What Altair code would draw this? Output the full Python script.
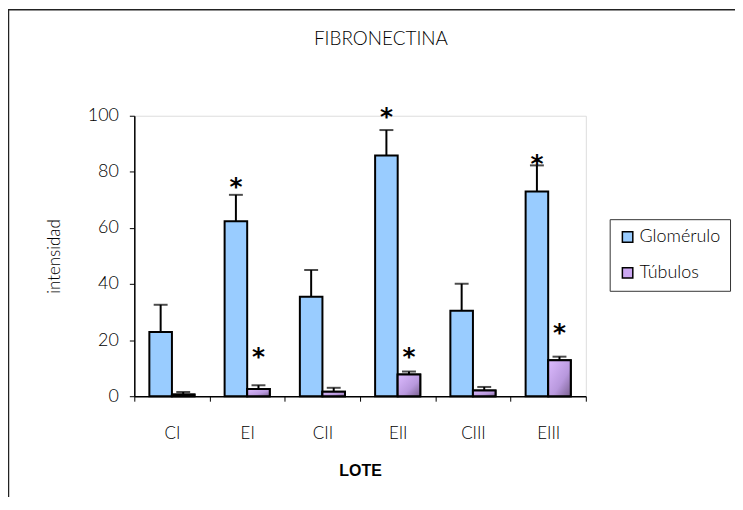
import altair as alt
import pandas as pd

lotes = ["CI", "EI", "CII", "EII", "CIII", "EIII"]
series = ["Glomérulo", "Túbulos"]
glomerulo = [22.9, 62.4, 35.5, 85.8, 30.5, 73.0]
glomerulo_err = [9.7, 9.4, 9.5, 9.1, 9.6, 9.3]
tubulos = [0.6, 2.6, 1.6, 7.7, 2.0, 12.8]
tubulos_err = [0.9, 1.3, 1.4, 1.1, 1.3, 1.3]

star_lote = ["EI", "EI", "EII", "EII", "EIII", "EIII"]
star_serie = ["Glomérulo", "Túbulos", "Glomérulo", "Túbulos", "Glomérulo", "Túbulos"]
star_y = [75.9, 15.5, 100.8, 15.5, 84.3, 23.9]

chart_title = "FIBRONECTINA"

rows = []
for i, l in enumerate(lotes):
    rows.append({"lote": l, "serie": series[0], "value": glomerulo[i], "top": glomerulo[i] + glomerulo_err[i]})
    rows.append({"lote": l, "serie": series[1], "value": tubulos[i], "top": tubulos[i] + tubulos_err[i]})
df = pd.DataFrame(rows)
stars = pd.DataFrame({"lote": star_lote, "serie": star_serie, "y": star_y})

FONT = "Lato"
LIGHT = 300

x = alt.X("lote:N", sort=lotes, scale=alt.Scale(paddingInner=0, paddingOuter=0),
          axis=alt.Axis(title="LOTE", titleFont="Liberation Sans", titleFontWeight="bold",
                        titleFontSize=16, titleColor="black", titlePadding=21,
                        labelFont=FONT, labelFontSize=17, labelFontWeight=LIGHT, labelColor="black",
                        labelAngle=0, labelPadding=25, tickBand="extent", tickSize=5,
                        tickColor="black", domainColor="black", domainWidth=1.5, tickWidth=1))
xo = alt.XOffset("serie:N", sort=series, scale=alt.Scale(paddingInner=0, paddingOuter=0.667))
y_scale = alt.Scale(domain=[0, 100])
color = alt.Color("serie:N", sort=series,
                  scale=alt.Scale(domain=series, range=["#99CCFF", "#CCA8F2"]),
                  legend=alt.Legend(title=None, orient="none", legendX=478, legendY=104,
                                    strokeColor="#333333", fillColor="white", padding=9,
                                    labelFont=FONT, labelFontSize=18, labelFontWeight=LIGHT,
                                    labelColor="black",
                                    symbolType="square", symbolSize=110, symbolStrokeColor="black",
                                    symbolStrokeWidth=1.5, symbolOpacity=1, rowPadding=18,
                                    labelOffset=3))

bars = alt.Chart(df).mark_bar(stroke="black", strokeWidth=2).encode(
    x=x, xOffset=xo,
    y=alt.Y("value:Q", scale=y_scale,
            axis=alt.Axis(title="intensidad", values=[0, 20, 40, 60, 80, 100], grid=False,
                          titleFont=FONT, titleFontSize=17, titleFontWeight=LIGHT,
                          titleColor="black", titlePadding=24,
                          labelFont=FONT, labelFontSize=18, labelFontWeight=LIGHT,
                          labelColor="black", labelPadding=11,
                          tickSize=5, tickColor="black", domainColor="black", domainWidth=1.5)),
    color=color,
)

tub_grad = alt.Chart(df[df.serie == "Túbulos"]).mark_bar(
    stroke="black", strokeWidth=2,
    fill=alt.Gradient(gradient="linear", x1=0, y1=0, x2=1, y2=1,
                      stops=[alt.GradientStop(color="#DDBBFF", offset=0),
                             alt.GradientStop(color="#B898DD", offset=0.6),
                             alt.GradientStop(color="#7A6090", offset=1)]),
).encode(x=x, xOffset=xo, y=alt.Y("value:Q", scale=y_scale))

err = alt.Chart(df).mark_rule(color="black", strokeWidth=2).encode(
    x=x, xOffset=xo, y=alt.Y("value:Q", scale=y_scale), y2="top:Q")
caps = alt.Chart(df).mark_tick(color="black", thickness=2, size=14, orient="horizontal").encode(
    x=x, xOffset=xo, y=alt.Y("top:Q", scale=y_scale))

star_txt = alt.Chart(stars).mark_text(text="*", font="DejaVu Sans", fontWeight="bold",
                                      fontSize=25, baseline="alphabetic", dy=12, color="black").encode(
    x=x, xOffset=xo, y=alt.Y("y:Q", scale=y_scale))

title_txt = alt.Chart(alt.Data(values=[{"t": chart_title}])).mark_text(
    font=FONT, fontSize=19, fontWeight=LIGHT, color="black", align="center", baseline="middle"
).encode(x=alt.value(248), y=alt.value(-77), text="t:N")

frame_left = alt.Chart(alt.Data(values=[{}])).mark_rule(color="#222222", strokeWidth=1.5).encode(
    x=alt.value(-126.5), y=alt.value(-107), y2=alt.value(400))
frame_top = alt.Chart(alt.Data(values=[{}])).mark_rule(color="#222222", strokeWidth=1.5).encode(
    x=alt.value(-127), x2=alt.value(604), y=alt.value(-106.5))

chart = alt.layer(bars, tub_grad, err, caps, star_txt, title_txt, frame_left, frame_top).properties(
    width=454, height=282,
    autosize=alt.AutoSizeParams(type="none"),
    padding={"left": 127, "top": 107, "right": 150, "bottom": 100},
).configure_view(stroke=None).configure(background="white")

chart.save("out.html", embed_options={"renderer": "svg", "actions": False})
